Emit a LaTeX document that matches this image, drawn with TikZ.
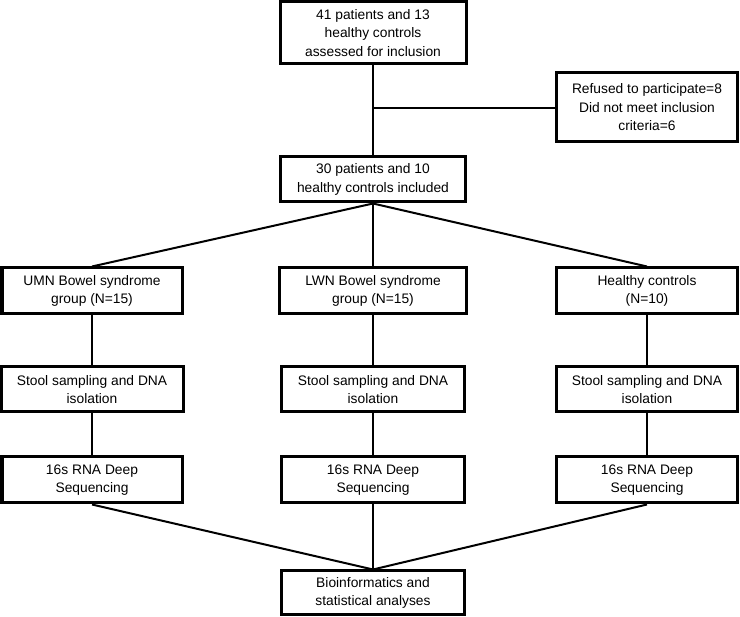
\documentclass[tikz,border=0pt]{standalone}
\usepackage{fontspec}
\setmainfont{Liberation Sans}
\begin{document}
\begin{tikzpicture}[x=1pt,y=-1pt,
  box/.style={draw=black,line width=3pt,fill=white,align=center,inner sep=0pt,
    font=\fontsize{13.8}{18.5}\selectfont},
  link/.style={draw=black,line width=2pt}]
\useasboundingbox (0,0) rectangle (740,617);
% nodes
\node[box,minimum width=186pt,minimum height=62pt] (top) at (373,33) {41 patients and 13\\healthy controls\\assessed for inclusion};
\node[box,minimum width=181pt,minimum height=69pt] (ref) at (647,107.5) {Refused to participate=8\\Did not meet inclusion\\criteria=6};
\node[box,minimum width=185pt,minimum height=45pt] (inc) at (373,179.5) {30 patients and 10\\healthy controls included};
\node[box,minimum width=180pt,minimum height=46pt] (umn) at (92,291) {UMN Bowel syndrome\\group (N=15)};
\node[box,minimum width=187pt,minimum height=46pt] (lwn) at (373,291) {LWN Bowel syndrome\\group (N=15)};
\node[box,minimum width=181pt,minimum height=46pt] (hc) at (647,291) {Healthy controls\\(N=10)};
\node[box,minimum width=182pt,minimum height=45pt] (s1) at (92,389.5) {Stool sampling and DNA\\isolation};
\node[box,minimum width=183pt,minimum height=45pt] (s2) at (373,389.5) {Stool sampling and DNA\\isolation};
\node[box,minimum width=181pt,minimum height=45pt] (s3) at (647,389.5) {Stool sampling and DNA\\isolation};
\node[box,minimum width=180pt,minimum height=46pt] (q1) at (92,480) {16s RNA Deep\\Sequencing};
\node[box,minimum width=183pt,minimum height=46pt] (q2) at (373,480) {16s RNA Deep\\Sequencing};
\node[box,minimum width=181pt,minimum height=46pt] (q3) at (647,480) {16s RNA Deep\\Sequencing};
\node[box,minimum width=183pt,minimum height=44pt] (bio) at (373,593) {Bioinformatics and\\statistical analyses};
\coordinate (br) at (373,108);
% connectors
\path[link] (top.south) -- (inc.north);
\path[link] (br) -- (ref.west |- br);
\path[link] (inc.south) -- (umn.north);
\path[link] (inc.south) -- (lwn.north);
\path[link] (inc.south) -- (hc.north);
\path[link] (umn.south) -- (s1.north);
\path[link] (lwn.south) -- (s2.north);
\path[link] (hc.south) -- (s3.north);
\path[link] (s1.south) -- (q1.north);
\path[link] (s2.south) -- (q2.north);
\path[link] (s3.south) -- (q3.north);
\path[link] (q1.south) -- (bio.north);
\path[link] (q2.south) -- (bio.north);
\path[link] (q3.south) -- (bio.north);
\end{tikzpicture}
\end{document}
